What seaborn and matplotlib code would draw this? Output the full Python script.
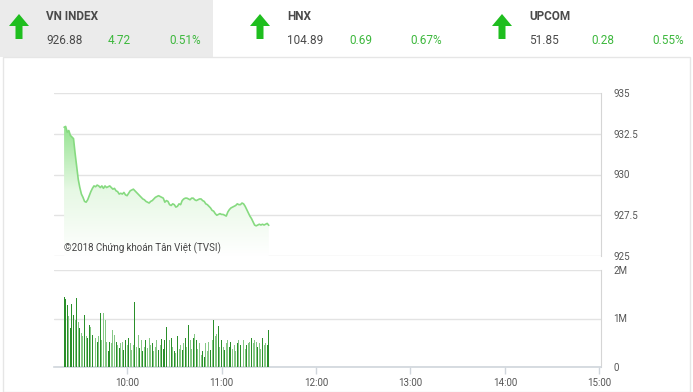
import numpy as np
import matplotlib
matplotlib.use("Agg")
import matplotlib.pyplot as plt
from matplotlib.patches import Polygon, Rectangle
from matplotlib.colors import LinearSegmentedColormap
import seaborn as sns

# ---- data ----
# minutes since 9:00, one point per minute from 9:20 to 11:30
minutes = np.arange(20, 151)

price = [932.9, 932.95, 932.6, 932.7, 932.4, 932.3, 932.2, 931.3, 930.5, 929.7,
         929.2, 928.8, 928.6, 928.35, 928.3, 928.45, 928.7, 928.95, 929.15, 929.3,
         929.25, 929.35, 929.3, 929.2, 929.3, 929.15, 929.3, 929.2, 929.25, 929.3,
         929.2, 929.1, 929.15, 929.0, 928.95, 928.8, 928.85, 928.8, 928.9, 928.75,
         928.7, 928.85, 929.0, 929.05, 929.1, 929.0, 928.9, 928.8, 928.7, 928.6,
         928.5, 928.45, 928.35, 928.3, 928.25, 928.35, 928.4, 928.5, 928.6, 928.65,
         928.7, 928.65, 928.6, 928.55, 928.3, 928.4, 928.35, 928.15, 928.1, 928.2,
         928.15, 928.0, 928.05, 928.2, 928.15, 928.4, 928.5, 928.55, 928.55, 928.5,
         928.45, 928.55, 928.55, 928.45, 928.4, 928.45, 928.5, 928.5, 928.4, 928.35,
         928.2, 928.15, 928.05, 927.95, 927.8, 927.75, 927.6, 927.5, 927.55, 927.6,
         927.55, 927.55, 927.5, 927.45, 927.7, 927.85, 927.95, 928.0, 928.05, 928.1,
         928.2, 928.15, 928.15, 928.25, 928.2, 928.05, 927.85, 927.65, 927.45, 927.3,
         927.1, 926.9, 926.85, 926.9, 926.95, 926.9, 926.95, 926.9, 926.95, 927.0,
         926.88]

# volume in millions
volume = [1.44, 1.40, 1.28, 1.05, 0.80, 1.30, 1.07, 0.97, 1.42, 0.93,
          0.80, 0.70, 0.63, 1.07, 0.63, 0.59, 0.87, 0.83, 0.66, 0.76,
          0.59, 0.52, 0.63, 1.12, 0.56, 1.11, 0.97, 0.52, 0.32, 0.52,
          0.49, 0.76, 0.66, 0.52, 0.45, 0.39, 0.49, 0.52, 0.35, 0.56,
          0.45, 0.59, 0.49, 0.35, 0.45, 1.33, 0.42, 0.66, 0.39, 0.56,
          0.32, 0.42, 0.56, 0.39, 0.59, 0.45, 0.49, 0.32, 0.42, 0.56,
          0.35, 0.45, 0.57, 0.37, 0.56, 0.83, 0.52, 0.56, 0.59, 0.42,
          0.32, 0.28, 0.63, 0.38, 0.45, 0.35, 0.49, 0.59, 0.42, 0.87,
          0.56, 0.38, 0.59, 0.69, 0.56, 0.38, 0.49, 0.25, 0.32, 0.21,
          0.49, 0.32, 0.52, 0.35, 0.56, 0.96, 0.63, 0.69, 0.84, 0.42,
          0.56, 0.42, 0.35, 0.49, 0.56, 0.42, 0.52, 0.38, 0.45, 0.32,
          0.49, 0.56, 0.45, 0.56, 0.56, 0.38, 0.45, 0.49, 0.52, 0.59,
          0.49, 0.56, 0.52, 0.42, 0.49, 0.38, 0.59, 0.45, 0.49, 0.45,
          0.76]

# 1 = dark bar, 0 = light bar
bar_dark = [1, 1, 1, 0, 1, 1, 1, 0, 1, 0,
            1, 0, 0, 1, 0, 1, 1, 0, 1, 0,
            0, 1, 0, 1, 0, 0, 0, 0, 1, 1,
            0, 0, 0, 1, 0, 1, 0, 0, 1, 1,
            0, 1, 0, 0, 0, 1, 0, 0, 1, 0,
            1, 0, 1, 0, 0, 0, 1, 0, 0, 0,
            1, 0, 1, 1, 1, 1, 0, 0, 1, 0,
            1, 0, 1, 0, 0, 1, 0, 1, 0, 1,
            0, 0, 1, 0, 1, 0, 0, 0, 1, 1,
            0, 0, 0, 1, 0, 1, 0, 0, 1, 0,
            1, 0, 1, 0, 0, 1, 1, 0, 0, 0,
            1, 0, 1, 0, 0, 0, 1, 0, 0, 1,
            0, 0, 0, 1, 0, 0, 1, 0, 0, 1,
            1]

hour_ticks = [60, 120, 180, 240, 300, 360]
hour_labels = ["10:00", "11:00", "12:00", "13:00", "14:00", "15:00"]
price_ticks = [925, 927.5, 930, 932.5, 935]
price_labels = ["925", "927.5", "930", "932.5", "935"]
vol_ticks = [0, 1, 2]
vol_labels = ["0", "1M", "2M"]

indices = ["VN INDEX", "HNX", "UPCOM"]
idx_values = ["926.88", "104.89", "51.85"]
idx_change = ["4.72", "0.69", "0.28"]
idx_pct = ["0.51%", "0.67%", "0.55%"]

# ---- style ----
sns.set_style("white")
plt.rcParams['font.family'] = ['Roboto', 'DejaVu Sans']

W, H = 693, 392
fig = plt.figure(figsize=(W / 100, H / 100), dpi=100)


def fx(px):
    return px / W


def fy(py):
    return 1 - py / H


grid_c = "#e3e3e3"
text_c = "#555555"
green_txt = "#3db83d"
arrow_c = "#1fbe1f"

# header background + card frame
fig.patches.append(Rectangle((0, fy(57)), fx(213), 57 / H, transform=fig.transFigure,
                             facecolor="#ebebeb", edgecolor="none", zorder=0))
fig.patches.append(Rectangle((fx(3), 0), fx(687), fy(57), transform=fig.transFigure,
                             facecolor="none", edgecolor="#e6e6e6", lw=1, zorder=0))

for i, name in enumerate(indices):
    x0 = [0, 241, 483][i]
    ax_c = x0 + 19
    pts = [(ax_c, 14), (ax_c + 10, 26), (ax_c + 3.5, 26), (ax_c + 3.5, 39),
           (ax_c - 3.5, 39), (ax_c - 3.5, 26), (ax_c - 10, 26)]
    fig.patches.append(Polygon([(fx(a), fy(b)) for a, b in pts], closed=True,
                               transform=fig.transFigure, facecolor=arrow_c,
                               edgecolor="none"))
    fig.text(fx(x0 + 46), fy(17), name, fontsize=8.5, fontweight="bold",
             color="#4a4a4a", va="center", ha="left")
    fig.text(fx(x0 + 46), fy(41), idx_values[i], fontsize=8.5, color="#4a4a4a",
             va="center", ha="left")
    fig.text(fx(x0 + 108), fy(41), idx_change[i], fontsize=8.5, color=green_txt,
             va="center", ha="left")
    fig.text(fx(x0 + 201), fy(41), idx_pct[i], fontsize=8.5, color=green_txt,
             va="center", ha="right")

# ---- price panel ----
ax1 = fig.add_axes([fx(54), fy(256), fx(601 - 54), (256 - 93) / H])
sns.lineplot(x=minutes, y=price, ax=ax1, color="#86da80", lw=1.2, zorder=3)
fill = ax1.fill_between(minutes, price, 925, color="none", lw=0)
cmap = LinearSegmentedColormap.from_list("g", ["#ffffff", "#e6f8e4", "#8fe28a"])
grad = np.linspace(0, 1, 256).reshape(-1, 1)
img = ax1.imshow(grad, extent=[minutes[0], minutes[-1], 925, 933.2], origin="lower",
                 aspect="auto", cmap=cmap, zorder=2)
img.set_clip_path(fill.get_paths()[0], transform=ax1.transData)

ax1.set_xlim(13.6, 361)
ax1.set_ylim(925, 935)
ax1.set_yticks(price_ticks)
ax1.set_yticklabels(price_labels)
ax1.yaxis.tick_right()
ax1.tick_params(axis="y", length=0, pad=9, labelsize=7, labelcolor=text_c)
ax1.set_xticks([])
ax1.grid(axis="y", color=grid_c, lw=1)
for s in ["left", "top", "bottom"]:
    ax1.spines[s].set_visible(False)
ax1.spines["right"].set_color("#d5d5d5")
ax1.set_xlabel("")
ax1.set_ylabel("")
ax1.text(0.018, 0.05, "©2018 Chứng khoán Tân Việt (TVSI)", transform=ax1.transAxes,
         fontsize=7, color="#444444", va="center", ha="left", zorder=5)

# ---- volume panel ----
ax2 = fig.add_axes([fx(54), fy(367), fx(601 - 54), (367 - 270) / H])
colors = ["#2a8f2a" if d else "#86c886" for d in bar_dark]
ax2.bar(minutes, volume, width=0.62, color=colors, lw=0, zorder=3)
ax2.set_xlim(13.6, 361)
ax2.set_ylim(0, 2)
ax2.set_yticks(vol_ticks)
ax2.set_yticklabels(vol_labels)
ax2.yaxis.tick_right()
ax2.tick_params(axis="y", length=0, pad=9, labelsize=7, labelcolor=text_c)
ax2.set_xticks(hour_ticks)
ax2.set_xticklabels(hour_labels)
ax2.tick_params(axis="x", length=5, width=1, color="#d0d6dc", pad=3, labelsize=7,
                labelcolor=text_c, bottom=True)
ax2.grid(axis="y", color=grid_c, lw=1)
ax2.spines["left"].set_visible(False)
ax2.spines["top"].set_visible(False)
ax2.spines["right"].set_color("#d5d5d5")
ax2.spines["bottom"].set_color("#d0d6dc")
ax2.spines["bottom"].set_linewidth(1.2)

fig.savefig("out.png", dpi=100)
